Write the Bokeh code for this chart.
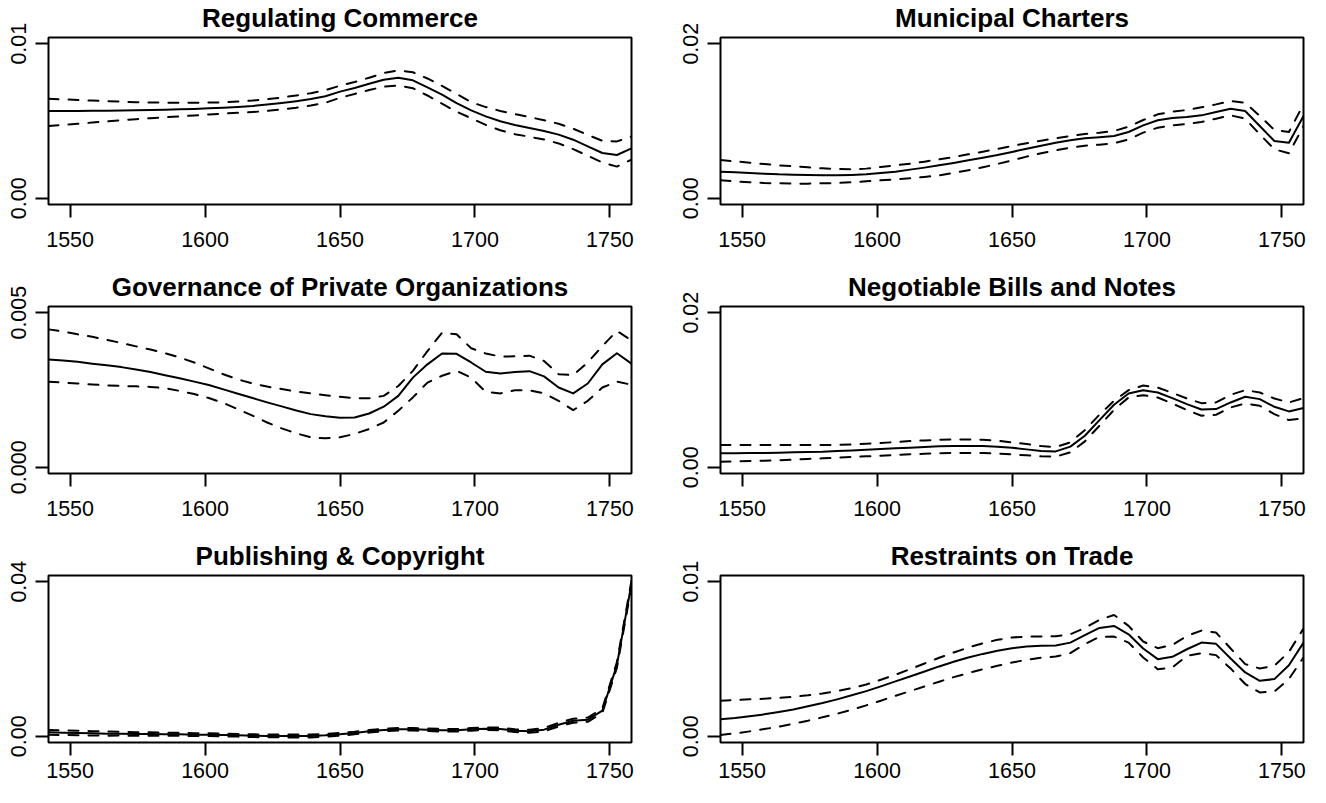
from bokeh.plotting import figure
from bokeh.layouts import column, row
from bokeh.models import Range1d, FixedTicker, PrintfTickFormatter
from bokeh.embed import file_html
from bokeh.resources import INLINE

# ---------------- data ----------------
YEARS = [1542.0, 1547.4, 1552.8, 1558.2, 1563.6, 1569.0, 1574.4, 1579.8, 1585.2, 1590.6,
         1596.0, 1601.4, 1606.8, 1612.2, 1617.6, 1623.0, 1628.4, 1633.8, 1639.2, 1644.6,
         1650.0, 1655.4, 1660.8, 1666.2, 1671.6, 1677.0, 1682.4, 1687.8, 1693.2, 1698.6,
         1704.0, 1709.4, 1714.8, 1720.2, 1725.6, 1731.0, 1736.4, 1741.8, 1747.2, 1752.6,
         1758.0]

X_TICKS = [1550, 1600, 1650, 1700, 1750]

TITLES = ["Regulating Commerce", "Municipal Charters",
          "Governance of Private Organizations", "Negotiable Bills and Notes",
          "Publishing & Copyright", "Restraints on Trade"]

Y_MAX = [0.01, 0.02, 0.005, 0.02, 0.04, 0.01]
Y_FMT = ["%.2f", "%.2f", "%.3f", "%.2f", "%.2f", "%.2f"]

REG_MEAN = [.00565, .00565, .00565, .00566, .00567, .00568, .00570, .00571, .00573, .00576,
            .00578, .00582, .00586, .00591, .00597, .00606, .00616, .00628, .00642, .00660,
            .00690, .00713, .00741, .00767, .00780, .00763, .00718, .00670, .00616, .00569,
            .00530, .00498, .00474, .00455, .00435, .00412, .00379, .00336, .00293, .00280,
            .00323]
REG_UP = [.00644, .00640, .00636, .00632, .00628, .00625, .00622, .00620, .00619, .00618,
          .00618, .00619, .00621, .00626, .00632, .00641, .00652, .00665, .00680, .00700,
          .00728, .00752, .00780, .00810, .00828, .00815, .00775, .00727, .00675, .00622,
          .00590, .00565, .00545, .00525, .00505, .00482, .00450, .00410, .00372, .00368,
          .00400]
REG_LO = [.00468, .00475, .00482, .00490, .00497, .00505, .00512, .00518, .00524, .00530,
          .00536, .00542, .00548, .00553, .00558, .00565, .00575, .00586, .00600, .00618,
          .00650, .00675, .00700, .00722, .00730, .00712, .00665, .00612, .00560, .00518,
          .00475, .00440, .00415, .00398, .00380, .00355, .00318, .00275, .00232, .00205,
          .00250]

MUN_MEAN = [.00345, .00336, .00328, .00319, .00310, .00306, .00302, .00297, .00297, .00302,
            .00310, .00328, .00345, .00371, .00397, .00427, .00457, .00491, .00526, .00560,
            .00599, .00642, .00681, .00720, .00750, .00776, .00789, .00806, .00858, .00944,
            .01009, .01039, .01052, .01073, .01116, .01159, .01129, .00935, .00741, .00720,
            .01065]
MUN_UP = [.00496, .00478, .00461, .00444, .00427, .00414, .00401, .00388, .00379, .00375,
          .00384, .00405, .00427, .00448, .00474, .00504, .00534, .00569, .00603, .00638,
          .00677, .00711, .00746, .00776, .00806, .00832, .00849, .00871, .00927, .01013,
          .01086, .01121, .01142, .01177, .01215, .01258, .01237, .01065, .00884, .00858,
          .01215]
MUN_LO = [.00233, .00220, .00207, .00198, .00194, .00190, .00190, .00194, .00198, .00207,
          .00220, .00233, .00246, .00259, .00276, .00297, .00328, .00362, .00401, .00444,
          .00491, .00539, .00582, .00621, .00655, .00681, .00694, .00711, .00763, .00849,
          .00914, .00944, .00961, .00987, .01030, .01073, .01030, .00828, .00634, .00582,
          .00935]

GOV_MEAN = [.00349, .00345, .00341, .00335, .00330, .00324, .00316, .00308, .00298, .00288,
            .00277, .00266, .00252, .00238, .00224, .00210, .00197, .00184, .00172, .00165,
            .00160, .00161, .00174, .00196, .00231, .00290, .00333, .00368, .00367, .00339,
            .00309, .00303, .00308, .00311, .00294, .00258, .00239, .00271, .00333, .00369,
            .00335]
GOV_UP = [.00446, .00439, .00430, .00422, .00412, .00402, .00391, .00381, .00369, .00355,
          .00339, .00320, .00301, .00284, .00271, .00261, .00253, .00245, .00239, .00233,
          .00228, .00224, .00223, .00231, .00263, .00312, .00376, .00435, .00430, .00385,
          .00368, .00358, .00359, .00361, .00344, .00301, .00298, .00339, .00392, .00441,
          .00410]
GOV_LO = [.00277, .00274, .00271, .00268, .00265, .00263, .00262, .00260, .00256, .00247,
          .00237, .00224, .00208, .00188, .00167, .00145, .00126, .00110, .00097, .00094,
          .00097, .00108, .00124, .00145, .00183, .00226, .00274, .00296, .00312, .00290,
          .00244, .00239, .00249, .00249, .00239, .00215, .00185, .00215, .00258, .00277,
          .00267]

NEG_MEAN = [.00181, .00181, .00185, .00185, .00189, .00194, .00198, .00202, .00211, .00219,
            .00228, .00237, .00245, .00254, .00262, .00271, .00275, .00275, .00275, .00267,
            .00254, .00232, .00211, .00206, .00267, .00409, .00611, .00809, .00955, .00998,
            .00968, .00895, .00817, .00748, .00753, .00839, .00912, .00882, .00783, .00723,
            .00766]
NEG_UP = [.00288, .00288, .00288, .00288, .00288, .00288, .00288, .00288, .00292, .00297,
          .00305, .00314, .00327, .00340, .00348, .00357, .00361, .00361, .00357, .00344,
          .00323, .00301, .00275, .00262, .00323, .00482, .00680, .00860, .00998, .01058,
          .01032, .00963, .00890, .00830, .00839, .00938, .00998, .00968, .00890, .00839,
          .00895]
NEG_LO = [.00073, .00077, .00082, .00086, .00090, .00099, .00108, .00116, .00125, .00133,
          .00142, .00151, .00159, .00168, .00176, .00181, .00185, .00185, .00185, .00176,
          .00168, .00155, .00142, .00138, .00194, .00335, .00538, .00744, .00903, .00933,
          .00903, .00826, .00740, .00667, .00680, .00774, .00826, .00796, .00688, .00611,
          .00632]

PUB_MEAN = [.00103, .00095, .00086, .00077, .00069, .00069, .00060, .00060, .00052, .00052,
            .00043, .00043, .00034, .00026, .00017, .00009, .00009, .00009, .00009, .00026,
            .00052, .00086, .00129, .00163, .00181, .00181, .00172, .00155, .00155, .00181,
            .00198, .00189, .00146, .00129, .00172, .00301, .00404, .00430, .00662, .01849,
            .03957]
PUB_UP = [.00165, .00155, .00145, .00133, .00122, .00118, .00106, .00103, .00092, .00090,
          .00080, .00078, .00068, .00060, .00052, .00045, .00045, .00046, .00047, .00062,
          .00088, .00120, .00162, .00196, .00214, .00214, .00205, .00188, .00188, .00215,
          .00232, .00224, .00182, .00168, .00215, .00348, .00455, .00484, .00720, .01920,
          .04030]
PUB_LO = [.00041, .00035, .00027, .00021, .00016, .00020, .00014, .00017, .00012, .00014,
          .00006, .00008, .00000, -.00008, -.00018, -.00027, -.00027, -.00028, -.00029, -.00010,
          .00016, .00052, .00096, .00130, .00148, .00148, .00139, .00122, .00122, .00147,
          .00164, .00154, .00110, .00090, .00129, .00254, .00353, .00376, .00604, .01778,
          .03884]

RES_MEAN = [.00110, .00118, .00129, .00142, .00157, .00174, .00194, .00215, .00239, .00265,
            .00292, .00323, .00355, .00387, .00419, .00452, .00482, .00510, .00533, .00553,
            .00570, .00581, .00585, .00587, .00606, .00654, .00701, .00714, .00660, .00568,
            .00499, .00514, .00563, .00606, .00598, .00503, .00413, .00359, .00370, .00460,
            .00606]
RES_UP = [.00230, .00234, .00239, .00243, .00249, .00256, .00265, .00277, .00292, .00312,
          .00335, .00366, .00398, .00434, .00471, .00508, .00542, .00574, .00602, .00624,
          .00639, .00645, .00645, .00647, .00660, .00701, .00753, .00785, .00714, .00613,
          .00570, .00591, .00649, .00684, .00671, .00568, .00467, .00439, .00456, .00546,
          .00697]
RES_LO = [.00009, .00019, .00032, .00047, .00062, .00082, .00101, .00123, .00146, .00172,
          .00200, .00230, .00262, .00292, .00323, .00353, .00383, .00409, .00434, .00456,
          .00477, .00495, .00508, .00516, .00538, .00596, .00643, .00645, .00606, .00510,
          .00434, .00445, .00520, .00538, .00525, .00439, .00338, .00284, .00290, .00370,
          .00510]

SERIES = [(REG_MEAN, REG_UP, REG_LO), (MUN_MEAN, MUN_UP, MUN_LO),
          (GOV_MEAN, GOV_UP, GOV_LO), (NEG_MEAN, NEG_UP, NEG_LO),
          (PUB_MEAN, PUB_UP, PUB_LO), (RES_MEAN, RES_UP, RES_LO)]

FONT = "Liberation Sans"


def make_panel(i, width, height, bl, br, bb, x_standoff):
    mean, up, lo = SERIES[i]
    ymax = Y_MAX[i]
    p = figure(width=width, height=height,
               x_range=Range1d(1542, 1758),
               y_range=Range1d(-0.04 * ymax, 1.04 * ymax),
               output_backend="svg", toolbar_location=None,
               min_border_left=bl, min_border_right=br,
               min_border_top=36, min_border_bottom=bb)
    p.background_fill_color = "white"
    p.border_fill_color = "white"
    p.outline_line_color = "black"
    p.outline_line_width = 2
    p.xgrid.visible = False
    p.ygrid.visible = False

    p.title.text = TITLES[i]
    p.title.align = "center"
    p.title.vertical_align = "top"
    p.title.text_font = FONT
    p.title.text_font_size = "26px"
    p.title.text_font_style = "bold"
    p.title.text_color = "black"
    p.title.standoff = 5
    p.title.offset = 0

    for ax in (p.xaxis[0], p.yaxis[0]):
        ax.axis_line_color = None
        ax.major_tick_line_color = "black"
        ax.major_tick_line_width = 2
        ax.major_tick_out = 13
        ax.major_tick_in = 0
        ax.minor_tick_line_color = None
        ax.major_label_text_font = FONT
        ax.major_label_text_font_size = "21.5px"
        ax.major_label_text_color = "black"

    p.xaxis[0].ticker = FixedTicker(ticks=X_TICKS)
    p.xaxis[0].major_label_standoff = x_standoff
    p.yaxis[0].ticker = FixedTicker(ticks=[0, ymax])
    p.yaxis[0].formatter = PrintfTickFormatter(format=Y_FMT[i])
    p.yaxis[0].major_label_orientation = "vertical"
    p.yaxis[0].major_label_standoff = 9

    p.line(YEARS, mean, line_color="black", line_width=2,
           line_join="round", line_cap="round")
    for band in (up, lo):
        p.line(YEARS, band, line_color="black", line_width=2,
               line_dash="10 10", line_cap="round", line_join="round")
    return p


rows = []
for r in range(3):
    h = 269 if r < 2 else 249
    bb = 65 if r < 2 else 45
    xs = 14 if r < 2 else 7
    left = make_panel(2 * r, 664, h, 48, 33, bb, xs)
    right = make_panel(2 * r + 1, 646, h, 56, 7, bb, xs)
    rows.append(row(left, right))

layout = column(*rows)

open("out.html", "w").write(file_html(layout, INLINE))
